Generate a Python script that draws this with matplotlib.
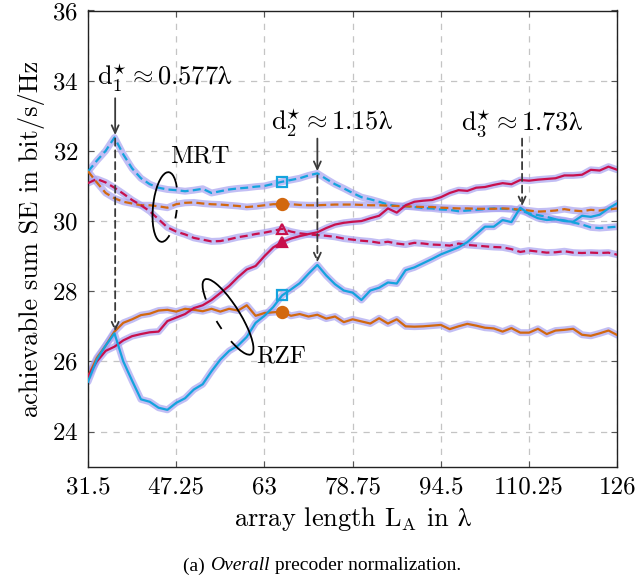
import numpy as np
import matplotlib
matplotlib.use("Agg")
import matplotlib.pyplot as plt
from matplotlib.patches import Arc
from matplotlib.transforms import ScaledTranslation

# ---------------- data ----------------
x_start = 31.5
x_step = 1.575
n_pts = 61
xticks = [31.5, 47.25, 63, 78.75, 94.5, 110.25, 126]
xticklabels = ["31.5", "47.25", "63", "78.75", "94.5", "110.25", "126"]
yticks = [24, 26, 28, 30, 32, 34, 36]

mrt_blue = [31.41, 31.72, 32.0, 32.38, 31.9, 31.5, 31.22, 31.05, 30.95, 30.9,
            30.88, 30.85, 30.88, 30.92, 30.8, 30.85, 30.9, 30.93, 30.95, 30.98,
            31.0, 31.06, 31.12, 31.17, 31.22, 31.3, 31.36, 31.2, 31.05, 30.93,
            30.8, 30.68, 30.62, 30.55, 30.47, 30.43, 30.42, 30.4, 30.37, 30.36,
            30.33, 30.32, 30.28, 30.3, 30.32, 30.34, 30.36, 30.35, 30.34, 30.3,
            30.22, 30.17, 30.12, 30.05, 30.02, 29.96, 29.9, 29.82, 29.8, 29.82,
            29.84]
mrt_orange = [31.42, 31.1, 30.8, 30.65, 30.55, 30.5, 30.45, 30.45, 30.42, 30.38,
              30.48, 30.52, 30.53, 30.5, 30.48, 30.47, 30.45, 30.43, 30.4, 30.42,
              30.45, 30.48, 30.48, 30.48, 30.46, 30.45, 30.45, 30.46, 30.47, 30.47,
              30.47, 30.46, 30.45, 30.45, 30.44, 30.43, 30.42, 30.41, 30.4, 30.4,
              30.38, 30.37, 30.36, 30.36, 30.35, 30.35, 30.35, 30.36, 30.35, 30.32,
              30.3, 30.27, 30.28, 30.3, 30.34, 30.3, 30.28, 30.32, 30.3, 30.33,
              30.36]
mrt_red = [31.08, 31.2, 31.1, 30.95, 30.78, 30.6, 30.45, 30.28, 30.05, 29.82,
           29.7, 29.62, 29.52, 29.47, 29.42, 29.43, 29.48, 29.54, 29.58, 29.63,
           29.67, 29.72, 29.78, 29.7, 29.65, 29.62, 29.6, 29.58, 29.55, 29.5,
           29.47, 29.44, 29.42, 29.38, 29.41, 29.36, 29.33, 29.38, 29.36, 29.33,
           29.32, 29.3, 29.36, 29.32, 29.3, 29.28, 29.26, 29.25, 29.2, 29.12,
           29.16, 29.13, 29.1, 29.11, 29.14, 29.1, 29.09, 29.1, 29.09, 29.1,
           29.04]
rzf_blue = [25.42, 26.05, 26.45, 26.8, 26.0, 25.45, 24.92, 24.85, 24.68, 24.62,
            24.82, 24.95, 25.2, 25.35, 25.72, 26.05, 26.3, 26.45, 26.7, 27.1,
            27.3, 27.55, 27.88, 28.05, 28.23, 28.5, 28.75, 28.45, 28.2, 28.02,
            27.96, 27.75, 28.02, 28.1, 28.25, 28.22, 28.6, 28.68, 28.8, 28.92,
            29.05, 29.15, 29.25, 29.4, 29.62, 29.84, 29.84, 30.03, 29.97, 30.38,
            30.2, 30.08, 30.03, 30.05, 30.0, 29.98, 30.15, 30.12, 30.18, 30.36,
            30.51]
rzf_orange = [25.57, 26.1, 26.45, 26.85, 27.1, 27.2, 27.32, 27.36, 27.45, 27.47,
              27.42, 27.5, 27.47, 27.43, 27.5, 27.42, 27.5, 27.45, 27.6, 27.3,
              27.38, 27.4, 27.42, 27.3, 27.35, 27.28, 27.33, 27.22, 27.28, 27.12,
              27.2, 27.14, 27.08, 27.23, 27.08, 27.2, 27.0, 26.99, 27.0, 27.02,
              27.04, 26.92, 27.0, 27.07, 27.02, 26.96, 26.94, 26.85, 26.95, 26.82,
              26.82, 26.93, 26.78, 26.88, 26.9, 26.93, 26.76, 26.73, 26.8, 26.88,
              26.75]
rzf_red = [25.57, 26.0, 26.3, 26.42, 26.6, 26.72, 26.78, 26.83, 26.85, 27.15,
           27.25, 27.35, 27.52, 27.6, 27.75, 27.95, 28.15, 28.4, 28.62, 28.72,
           29.0, 29.25, 29.4, 29.5, 29.57, 29.63, 29.68, 29.8, 29.9, 29.95,
           29.98, 30.0, 30.08, 30.15, 30.36, 30.24, 30.45, 30.55, 30.58, 30.6,
           30.68, 30.8, 30.88, 30.86, 30.95, 30.97, 31.03, 31.08, 31.05, 31.17,
           31.15, 31.18, 31.2, 31.22, 31.3, 31.3, 31.32, 31.46, 31.44, 31.55,
           31.46]

x = x_start + x_step * np.arange(n_pts)
marker_idx = 22

d_labels = [r"$\mathrm{d}_{1}^{\star}\approx 0.577\mathrm{λ}$",
            r"$\mathrm{d}_{2}^{\star}\approx 1.15\mathrm{λ}$",
            r"$\mathrm{d}_{3}^{\star}\approx 1.73\mathrm{λ}$"]

# ---------------- style ----------------
plt.rcParams["font.family"] = ["cmr10", "DejaVu Serif"]
plt.rcParams["mathtext.fontset"] = "cm"
plt.rcParams["axes.formatter.use_mathtext"] = True

BLUE = "#14a3dd"
ORANGE = "#d2680f"
RED = "#c8104c"
HALO = "#a9a3f0"
ARROW = "#3a3a3a"

fig = plt.figure(figsize=(6.39, 5.84), dpi=100)
ax = fig.add_axes([88 / 639, 1 - 466.7 / 584, (617.3 - 88) / 639, (466.7 - 10.5) / 584])

lw = 1.6
dash = (0, (3.6, 1.9))
series = [
    (mrt_blue, BLUE, dash, "s", "none"),
    (mrt_orange, ORANGE, dash, "o", ORANGE),
    (mrt_red, RED, dash, "^", "none"),
    (rzf_orange, ORANGE, "-", "o", ORANGE),
    (rzf_red, RED, "-", "^", RED),
    (rzf_blue, BLUE, "-", "s", "none"),
]

for ys, c, ls, m, mfc in series:
    ax.plot(x, ys, color=HALO, lw=5.0, alpha=0.7, solid_capstyle="round",
            solid_joinstyle="round", zorder=2)
for ys, c, ls, m, mfc in series:
    ax.plot(x, ys, color=c, lw=lw, ls=ls, zorder=3)
    ax.plot([x[marker_idx]], [ys[marker_idx]], color=c, marker=m,
            ms=7 if m != "o" else 8, mfc=mfc, mec=c, mew=1.6, ls="none", zorder=4)

ax.set_xlim(31.5, 126)
ax.set_ylim(23, 36)
ax.set_xticks(xticks)
ax.set_xticklabels(xticklabels)
ax.set_yticks(yticks)
ax.tick_params(axis="both", direction="in", length=4, width=0.8, colors="#555555",
               labelcolor="black", labelsize=18, top=True, right=True, pad=7)
ax.grid(True, color="#c4c4c4", ls=(0, (5, 5)), lw=0.9, zorder=0)
for sp in ax.spines.values():
    sp.set_color("#222222")
    sp.set_linewidth(1.0)
ax.set_axisbelow(True)

ax.set_xlabel(r"array length $\mathrm{L}_{\mathrm{A}}$ in $\mathrm{λ}$", fontsize=19, labelpad=5)
ax.set_ylabel("achievable sum SE in bit/s/Hz", fontsize=19, labelpad=5)

# annotations
ax.text(45.25, 34.08, d_labels[0], fontsize=19, ha="center", va="center", zorder=5)
ax.text(75.0, 32.79, d_labels[1], fontsize=19, ha="center", va="center", zorder=5)
ax.text(109.0, 32.79, d_labels[2], fontsize=19, ha="center", va="center", zorder=5)

def arrow(xd, y0, y1, dashed):
    ax.annotate("", xy=(xd, y1), xytext=(xd, y0),
                arrowprops=dict(arrowstyle="->,head_length=0.55,head_width=0.25",
                                color=ARROW, lw=1.3,
                                linestyle=(0, (4, 2.5)) if dashed else "-",
                                shrinkA=0, shrinkB=0),
                zorder=6)

arrow(36.35, 33.5, 32.45, False)
arrow(36.35, 32.35, 26.85, True)
arrow(72.45, 32.35, 31.42, False)
arrow(72.45, 31.3, 28.82, True)
arrow(109.0, 32.35, 30.42, True)

ax.text(51.5, 31.83, "MRT", fontsize=18, ha="center", va="center", zorder=5)
ax.text(66.0, 26.13, "RZF", fontsize=18, ha="center", va="center", zorder=5)

def ell_arcs(xc, yc, wpx, hpx, ang, pieces):
    tr = fig.dpi_scale_trans + ScaledTranslation(xc, yc, ax.transData)
    for t1, t2 in pieces:
        a = Arc((0, 0), wpx / 100, hpx / 100, angle=ang, theta1=t1, theta2=t2,
                transform=tr, color="black", lw=1.3, zorder=5)
        ax.add_patch(a)

ell_arcs(45.25, 30.40, 70, 24, 84, [(-25, 195), (228, 262)])
ell_arcs(56.5, 27.27, 88, 24, -58, [(-25, 200), (258, 300)])

# caption
fig.canvas.draw()
r = fig.canvas.get_renderer()
parts = [("(a) ", "normal"), ("Overall", "italic"), (" precoder normalization.", "normal")]
tmp = []
total = 0
for s, st in parts:
    t = fig.text(0, 0, s, fontsize=14, family="Liberation Serif", style=st)
    w = t.get_window_extent(renderer=r).width
    tmp.append((t, w))
    total += w
xpix = 322 - total / 2
for t, w in tmp:
    t.set_position((xpix / 639, 1 - 566 / 584))
    t.set_va("center")
    xpix += w

fig.savefig("out.png", dpi=100)
